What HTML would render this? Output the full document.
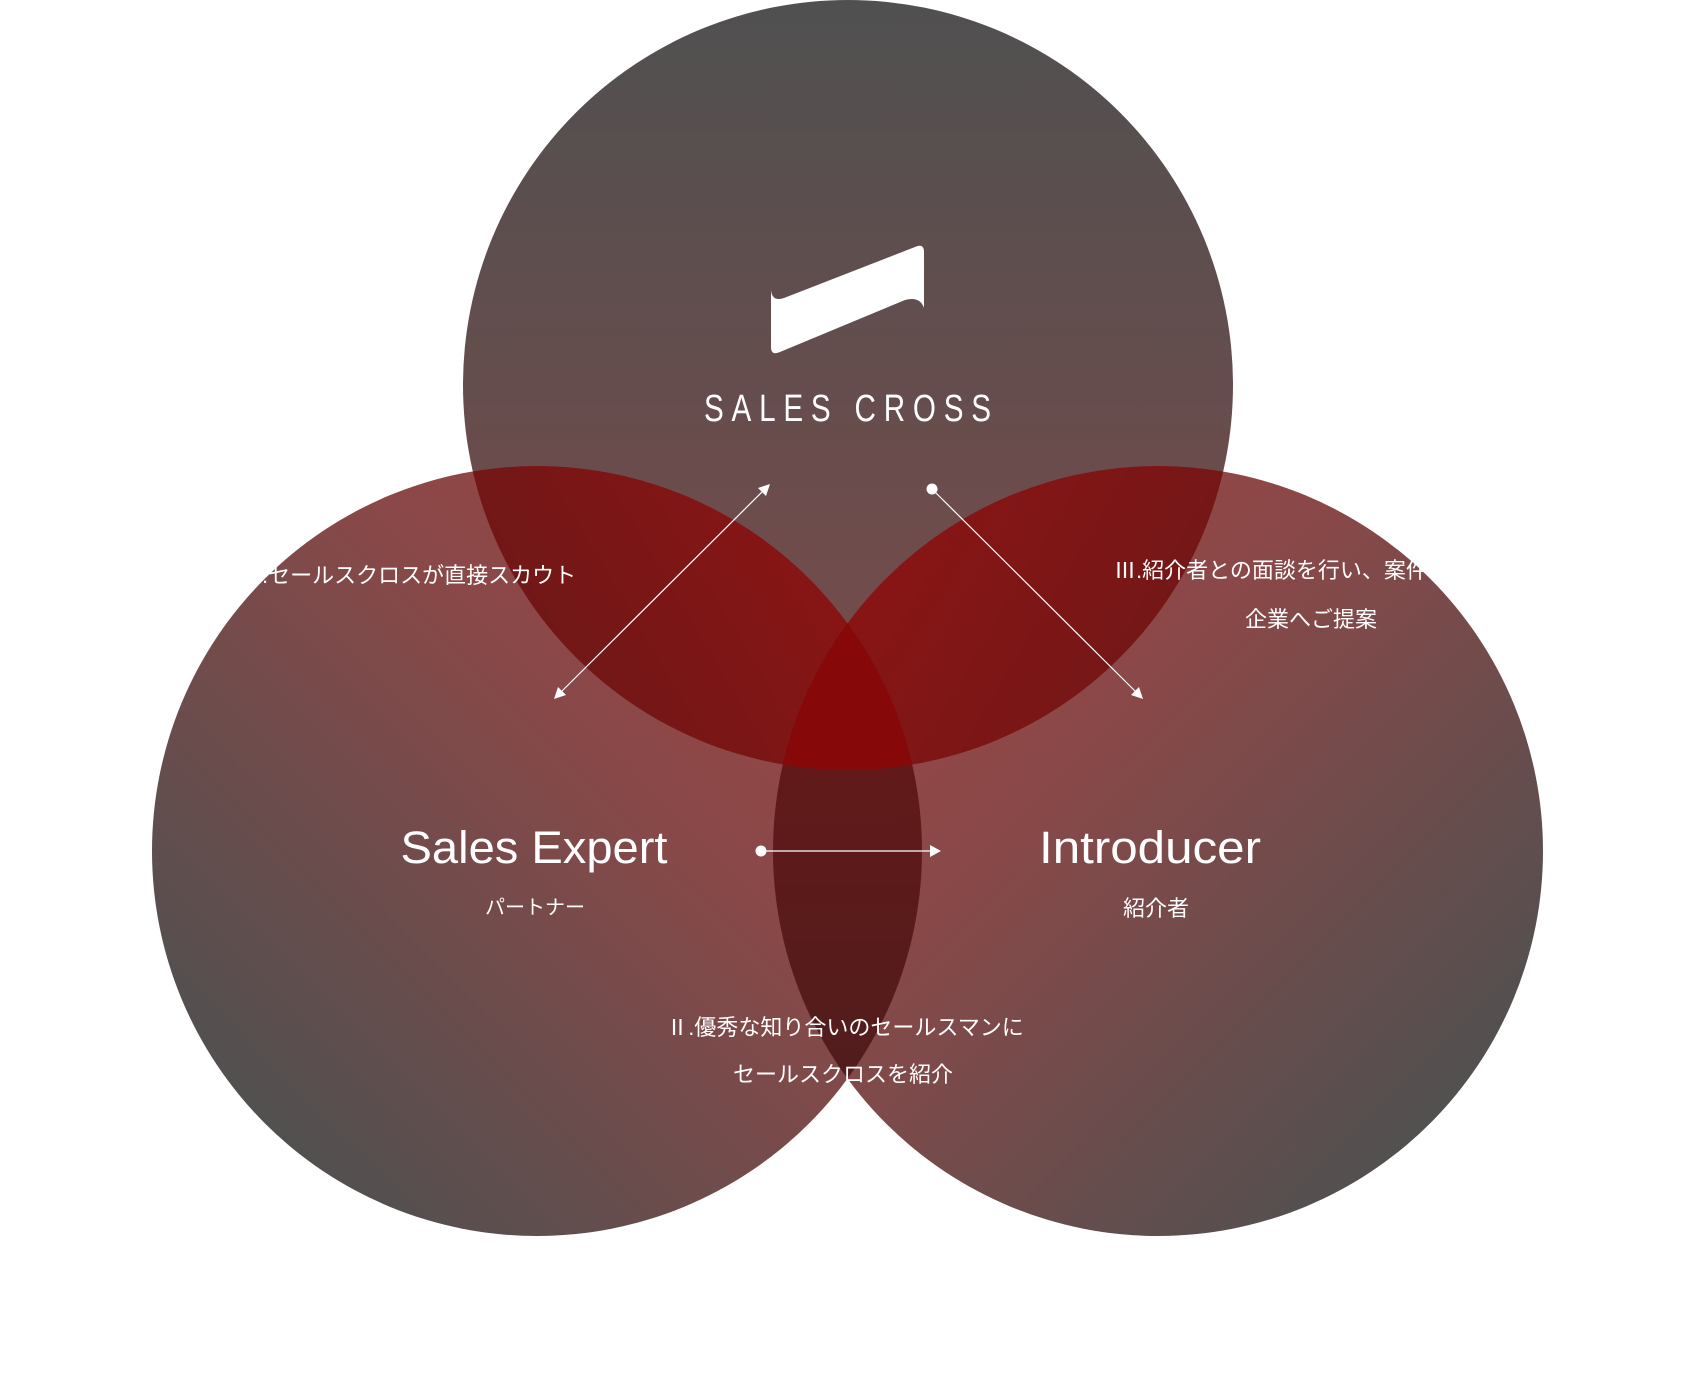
<!DOCTYPE html>
<html><head><meta charset="utf-8"><style>
html,body{margin:0;padding:0;background:#fff;width:1697px;height:1389px;overflow:hidden}
svg{display:block}
text{font-family:"Liberation Sans","Noto Sans CJK JP",sans-serif;fill:#fff}
</style></head><body>
<svg width="1697" height="1389" viewBox="0 0 1697 1389" xmlns="http://www.w3.org/2000/svg">
<defs>
<linearGradient id="gT" x1="0" y1="0" x2="0" y2="1"><stop offset="0" stop-color="#505050"/><stop offset="1" stop-color="#7b4a4a"/></linearGradient>
<linearGradient id="gL" gradientUnits="userSpaceOnUse" x1="835" y1="560" x2="255" y2="1140"><stop offset="0" stop-color="#9a4444"/><stop offset="0.35" stop-color="#8a4848"/><stop offset="1" stop-color="#505050"/></linearGradient>
<linearGradient id="gR" gradientUnits="userSpaceOnUse" x1="860" y1="560" x2="1440" y2="1140"><stop offset="0" stop-color="#9a4444"/><stop offset="0.35" stop-color="#8a4848"/><stop offset="1" stop-color="#505050"/></linearGradient>
<linearGradient id="gTL" gradientUnits="userSpaceOnUse" x1="480" y1="700" x2="850" y2="480"><stop offset="0" stop-color="#6a1818"/><stop offset="1" stop-color="#8e1414"/></linearGradient>
<linearGradient id="gTR" gradientUnits="userSpaceOnUse" x1="1220" y1="700" x2="850" y2="480"><stop offset="0" stop-color="#6e1818"/><stop offset="1" stop-color="#8e1414"/></linearGradient>
<linearGradient id="gLR" x1="0" y1="0" x2="0" y2="1"><stop offset="0" stop-color="#701616"/><stop offset="1" stop-color="#4a1e1e"/></linearGradient>
<clipPath id="cT"><circle cx="848" cy="385" r="385"/></clipPath>
<clipPath id="cL"><circle cx="537" cy="851" r="385"/></clipPath>
</defs>
<circle cx="848" cy="385" r="385" fill="url(#gT)"/>
<circle cx="537" cy="851" r="385" fill="url(#gL)"/>
<circle cx="1158" cy="851" r="385" fill="url(#gR)"/>
<g clip-path="url(#cT)"><circle cx="537" cy="851" r="385" fill="url(#gTL)"/><circle cx="1158" cy="851" r="385" fill="url(#gTR)"/></g>
<g clip-path="url(#cL)"><circle cx="1158" cy="851" r="385" fill="url(#gLR)"/></g>
<g clip-path="url(#cT)"><g clip-path="url(#cL)"><circle cx="1158" cy="851" r="385" fill="#870808"/></g></g>

<path d="M771,290 Q772,302 784,298 L915,247 Q924,243 924,252 L924,308 Q920,296 905,300 L780,352 Q771,356 771,347 Z" fill="#fff"/>
<text transform="translate(704,421) scale(0.78,1)" font-size="38" textLength="368" lengthAdjust="spacing">SALES CROSS</text>

<text x="534" y="863" font-size="45" text-anchor="middle" textLength="267" lengthAdjust="spacingAndGlyphs">Sales Expert</text>
<text x="535" y="914" font-size="20" text-anchor="middle">パートナー</text>
<text x="1150" y="863" font-size="45" text-anchor="middle" textLength="222" lengthAdjust="spacingAndGlyphs">Introducer</text>
<text x="1156" y="916" font-size="22" text-anchor="middle">紹介者</text>

<svg x="250" y="555" width="360" height="40" overflow="hidden"><text x="-10" y="28" font-size="22">Ⅰ.セールスクロスが直接スカウト</text></svg>
<svg x="1110" y="545" width="332" height="40" overflow="hidden"><text x="4" y="33" font-size="22">Ⅲ.紹介者との面談を行い、案件を</text></svg>
<text x="1311" y="627" font-size="22" text-anchor="middle">企業へご提案</text>
<text x="845" y="1035" font-size="22" text-anchor="middle">Ⅱ.優秀な知り合いのセールスマンに</text>
<text x="843" y="1082" font-size="22" text-anchor="middle">セールスクロスを紹介</text>

<g transform="translate(-4,-3)">
<g stroke="#fff" stroke-width="1.2" fill="#fff">
<line x1="563" y1="697" x2="769" y2="492"/>
<line x1="936" y1="492" x2="1141" y2="696"/>
<line x1="765" y1="854" x2="935" y2="854"/>
</g>
<g fill="#fff">
<polygon points="558,702 562,690 570,698"/>
<polygon points="774,487 770,499 762,491"/>
<polygon points="1147,702 1135,698 1143,690"/>
<polygon points="945,854 934,848 934,860"/>
<circle cx="936" cy="492" r="5.5"/>
<circle cx="765" cy="854" r="5.5"/>
</g>
</g>
</svg>
</body></html>
